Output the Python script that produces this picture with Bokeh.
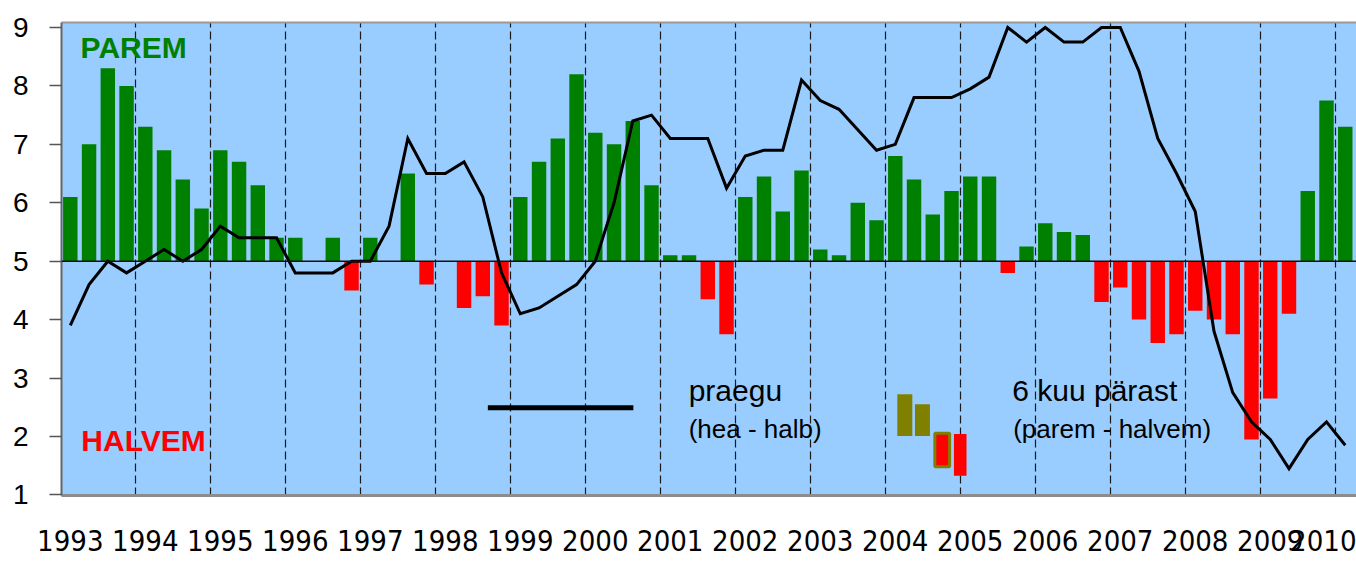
from bokeh.plotting import figure
from bokeh.models import ColumnDataSource, Range1d, FixedTicker, LinearAxis, Span, Label
from bokeh.embed import file_html
from bokeh.resources import INLINE

# ---- data -------------------------------------------------------------
years = [str(y) for y in range(1993, 2011)]          # x tick labels (one per Q1)

# expectation for 6 months ahead (bars, base 5)
expect = [6.10, 7.00, 8.30, 8.00, 7.30, 6.90, 6.40, 5.90,
          6.90, 6.70, 6.30, 5.40, 5.40, 5.00, 5.40, 4.50,
          5.40, 5.00, 6.50, 4.60, 5.00, 4.20, 4.40, 3.90,
          6.10, 6.70, 7.10, 8.20, 7.20, 7.00, 7.40, 6.30,
          5.10, 5.10, 4.35, 3.75, 6.10, 6.45, 5.85, 6.55,
          5.20, 5.10, 6.00, 5.70, 6.80, 6.40, 5.80, 6.20,
          6.45, 6.45, 4.80, 5.25, 5.65, 5.50, 5.45, 4.30,
          4.55, 4.00, 3.60, 3.75, 4.15, 4.00, 3.75, 1.95,
          2.65, 4.10, 6.20, 7.75, 7.30]

# current situation (line)
current = [3.9, 4.6, 5.0, 4.8, 5.0, 5.2, 5.0, 5.2,
           5.6, 5.4, 5.4, 5.4, 4.8, 4.8, 4.8, 5.0,
           5.0, 5.6, 7.1, 6.5, 6.5, 6.7, 6.1, 4.8,
           4.1, 4.2, 4.4, 4.6, 5.0, 6.0, 7.4, 7.5,
           7.1, 7.1, 7.1, 6.25, 6.8, 6.9, 6.9, 8.1,
           7.75, 7.6, 7.25, 6.9, 7.0, 7.8, 7.8, 7.8,
           7.95, 8.15, 9.0, 8.75, 9.0, 8.75, 8.75, 9.0,
           9.0, 8.25, 7.1, 6.5, 5.85, 3.8, 2.75, 2.25,
           1.95, 1.45, 1.95, 2.25, 1.85]

BASE = 5.0
quarters = list(range(len(expect)))

GREEN = "#008000"
RED = "#FF0000"
OLIVE = "#808000"
colors = [GREEN if v >= BASE else RED for v in expect]

src = ColumnDataSource(dict(x=quarters, top=expect, bottom=[BASE] * len(expect),
                            color=colors, cur=current))

# ---- figure -----------------------------------------------------------
p = figure(width=1356, height=564,
           x_range=Range1d(-0.47, 68.6), y_range=Range1d(0.99, 9.085),
           output_backend="svg", toolbar_location=None,
           min_border_left=61, min_border_top=22, min_border_right=0,
           min_border_bottom=69)
p.background_fill_color = "#99CCFF"
p.border_fill_color = "white"
p.outline_line_color = None

# x axis: year labels at first quarter of each year
year_ticks = quarters[::4]
xa = p.xaxis[0]
xa.ticker = FixedTicker(ticks=year_ticks)
xa.major_label_overrides = {t: years[i] for i, t in enumerate(year_ticks)}
xa.major_tick_line_color = None
xa.major_tick_out = 0
xa.major_tick_in = 0
xa.minor_tick_line_color = None
xa.minor_tick_out = 0
xa.minor_tick_in = 0
xa.axis_line_color = "#8c8c8c"
xa.axis_line_width = 3
xa.major_label_text_font = "'DejaVu Sans Condensed', 'Roboto', sans-serif"
xa.major_label_text_font_size = "29px"
xa.major_label_text_color = "black"
xa.major_label_standoff = 34

# y axis
ya = p.yaxis[0]
ya.ticker = FixedTicker(ticks=[1, 2, 3, 4, 5, 6, 7, 8, 9])
ya.major_tick_out = 12
ya.major_tick_in = 0
ya.major_tick_line_color = "#555555"
ya.major_tick_line_width = 1.5
ya.minor_tick_line_color = None
ya.axis_line_color = "#666666"
ya.axis_line_width = 2
ya.major_label_text_font = "Liberation Sans"
ya.major_label_text_font_size = "28px"
ya.major_label_text_color = "black"
ya.major_label_standoff = 21

# top border
top_axis = LinearAxis(ticker=FixedTicker(ticks=[]), major_tick_out=0, major_tick_in=0,
                      minor_tick_out=0, minor_tick_in=0, major_label_standoff=0,
                      major_label_text_font_size="0px", axis_line_color="#999999",
                      axis_line_width=2)
p.add_layout(top_axis, "above")

# grids
p.ygrid.grid_line_color = None
p.xgrid.ticker = FixedTicker(ticks=[3.5 + 4 * k for k in range(17)])
p.xgrid.grid_line_color = "#1a1a1a"
p.xgrid.grid_line_dash = "8 4"
p.xgrid.grid_line_width = 1.2

# bars
p.vbar(x="x", width=0.77, top="top", bottom="bottom", fill_color="color",
       line_color=None, source=src)

# base line at 5
p.add_layout(Span(location=BASE, dimension="width", line_color="#111111",
                  line_width=1.5, level="overlay"))

# current line
p.line(x="x", y="cur", line_color="black", line_width=3, source=src,
       line_join="miter")

# ---- in-chart labels and legend ---------------------------------------
p.add_layout(Label(x=0.55, y=8.38, text="PAREM", text_color=GREEN,
                   text_font="Liberation Sans", text_font_size="30px",
                   text_font_style="bold"))
p.add_layout(Label(x=0.59, y=1.655, text="HALVEM", text_color=RED,
                   text_font="Liberation Sans", text_font_size="30px",
                   text_font_style="bold"))

# legend: line
p.line(x=[22.27, 30.03], y=[2.49, 2.49], line_color="black", line_width=5)
p.add_layout(Label(x=32.98, y=2.50, text="praegu", text_color="black",
                   text_font="Liberation Sans", text_font_size="30px"))
p.add_layout(Label(x=32.98, y=1.87, text="(hea - halb)", text_color="black",
                   text_font="Liberation Sans", text_font_size="26px"))

# legend: bars
p.quad(left=[44.11, 45.05], right=[44.91, 45.85], bottom=[2.009, 2.009],
       top=[2.721, 2.55], fill_color=OLIVE, line_color=None)
p.quad(left=[46.11], right=[46.90], bottom=[1.484], top=[2.055],
       fill_color=RED, line_color=OLIVE, line_width=3)
p.quad(left=[47.13], right=[47.80], bottom=[1.33], top=[2.043],
       fill_color=RED, line_color=None)
p.add_layout(Label(x=50.24, y=2.50, text="6 kuu pärast", text_color="black",
                   text_font="Liberation Sans", text_font_size="30px"))
p.add_layout(Label(x=50.29, y=1.87, text="(parem - halvem)", text_color="black",
                   text_font="Liberation Sans", text_font_size="26px"))

open("out.html", "w").write(file_html(p, INLINE))
